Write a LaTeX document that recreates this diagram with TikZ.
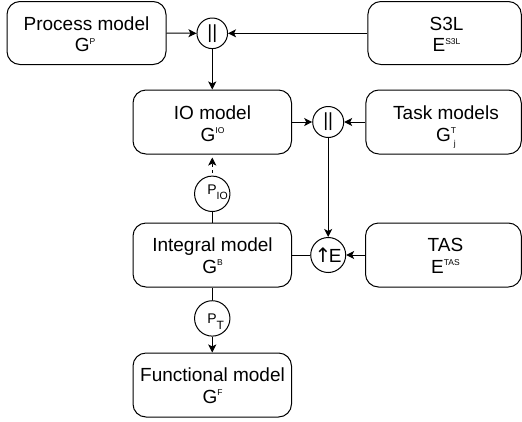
\documentclass[tikz,border=0pt]{standalone}
\usepackage{fontspec}
\setmainfont{Liberation Sans}
\newfontfamily\arrowfont{DejaVu Sans}
\usetikzlibrary{arrows.meta}
\newcommand\mainf{\fontsize{19pt}{21.7pt}\selectfont}
\newcommand\supf{\fontsize{8.5pt}{8.5pt}\selectfont}
\newcommand\mysup[1]{\raisebox{7.5pt}{\supf #1}}
\newcommand\mysupsub[2]{\rlap{\raisebox{7.5pt}{\supf #1}}\rlap{\hspace{3pt}\raisebox{-5pt}{\supf #2}}\phantom{\supf #1}}
\newcommand\zerobox[2]{\raisebox{#1}[0pt][0pt]{\makebox[0pt][l]{#2}}}
\begin{document}
\begin{tikzpicture}[x=1pt,y=-1pt,
  box/.style={draw, line width=1pt, rounded corners=13pt, inner sep=0pt, minimum height=64pt},
  op/.style={draw, circle, line width=1pt, inner sep=0pt, font=\mainf},
  ln/.style={anchor=base, inner sep=0pt, font=\mainf},
  arr/.style={line width=1pt, -{Stealth[length=8pt,width=8pt,inset=2pt]}},
  con/.style={line width=1pt}]
\useasboundingbox (0,0) rectangle (522,421);

% boxes
\node[box, minimum width=159pt, minimum height=63pt] (pm) at (86.5,33) {};
\node[box, minimum width=153.4pt, minimum height=63pt] (s3l) at (444.6,33) {};
\node[box, minimum width=158.5pt] (io) at (212.25,122) {};
\node[box, minimum width=155.4pt] (task) at (443.6,122) {};
\node[box, minimum width=158.5pt] (int) at (212.25,255) {};
\node[box, minimum width=155.8pt] (tas) at (443.4,255) {};
\node[box, minimum width=158.5pt] (fun) at (212.25,385) {};

% box texts
\node[ln] (pm1) at (86.5,30) {Process model};
\node[ln] (pm2) at (85,51.5) {G\mysup{P}};
\node[ln] (s3l1) at (446.5,30) {S3L};
\node[ln] (s3l2) at (446.5,51.5) {E\mysup{S3L}};
\node[ln] (io1) at (212.5,119.5) {IO model};
\node[ln] (io2) at (212.5,141) {G\mysup{IO}};
\node[ln] (task1) at (446,119.5) {Task models};
\node[ln] (task2) at (446,141) {G\mysupsub{T}{j}};
\node[ln] (int1) at (212.5,251.5) {Integral model};
\node[ln] (int2) at (212.5,273) {G\mysup{B}};
\node[ln] (tas1) at (445.5,251.5) {TAS};
\node[ln] (tas2) at (445.5,273) {E\mysup{TAS}};
\node[ln] (fun1) at (212.5,381.5) {Functional model};
\node[ln] (fun2) at (212.5,403) {G\mysup{F}};

% operators
\node[op, minimum size=30.6pt] (c1) at (212.25,33.3) {||};
\node[op, minimum size=31pt] (c2) at (328.2,122) {||};
\node[op, minimum size=35pt] (ce) at (328.2,255)
  {\raisebox{-7.3pt}[0pt][0pt]{\makebox[0pt]{{\arrowfont\fontsize{20pt}{20pt}\selectfont ↑}\kern-2.5pt E}}};
\node[op, minimum size=35.4pt] (pio) at (212.25,193.8)
  {\zerobox{-0.5pt}{\hspace{-5pt}\fontsize{14pt}{14pt}\selectfont P\raisebox{-5pt}{\fontsize{10.5pt}{10.5pt}\selectfont IO}}};
\node[op, minimum size=35.4pt] (pt) at (212.25,318.4)
  {\zerobox{-4.9pt}{\hspace{-5pt}\fontsize{14pt}{14pt}\selectfont P\raisebox{-6pt}{\fontsize{12pt}{12pt}\selectfont T}}};

% connectors
\draw[arr] (pm.east) -- (c1.west);
\draw[arr] (s3l.west |- c1.east) -- (c1.east);
\draw[arr] (c1.south) -- (io.north);
\draw[arr] (io.east) -- (c2.west);
\draw[arr] (task.west) -- (c2.east);
\draw[arr] (c2.south) -- (ce.north);
\draw[arr] (tas.west) -- (ce.east);
\draw[con] (int.east) -- (ce.west);
\draw[con] (int.north) -- (pio.south);
\draw[arr, dash pattern=on 3pt off 3pt, dash phase=3pt] (pio.north) -- ([yshift=-3pt]io.south);
\draw[con] (int.south) -- (pt.north);
\draw[arr] (pt.south) -- (fun.north);
\end{tikzpicture}
\end{document}
